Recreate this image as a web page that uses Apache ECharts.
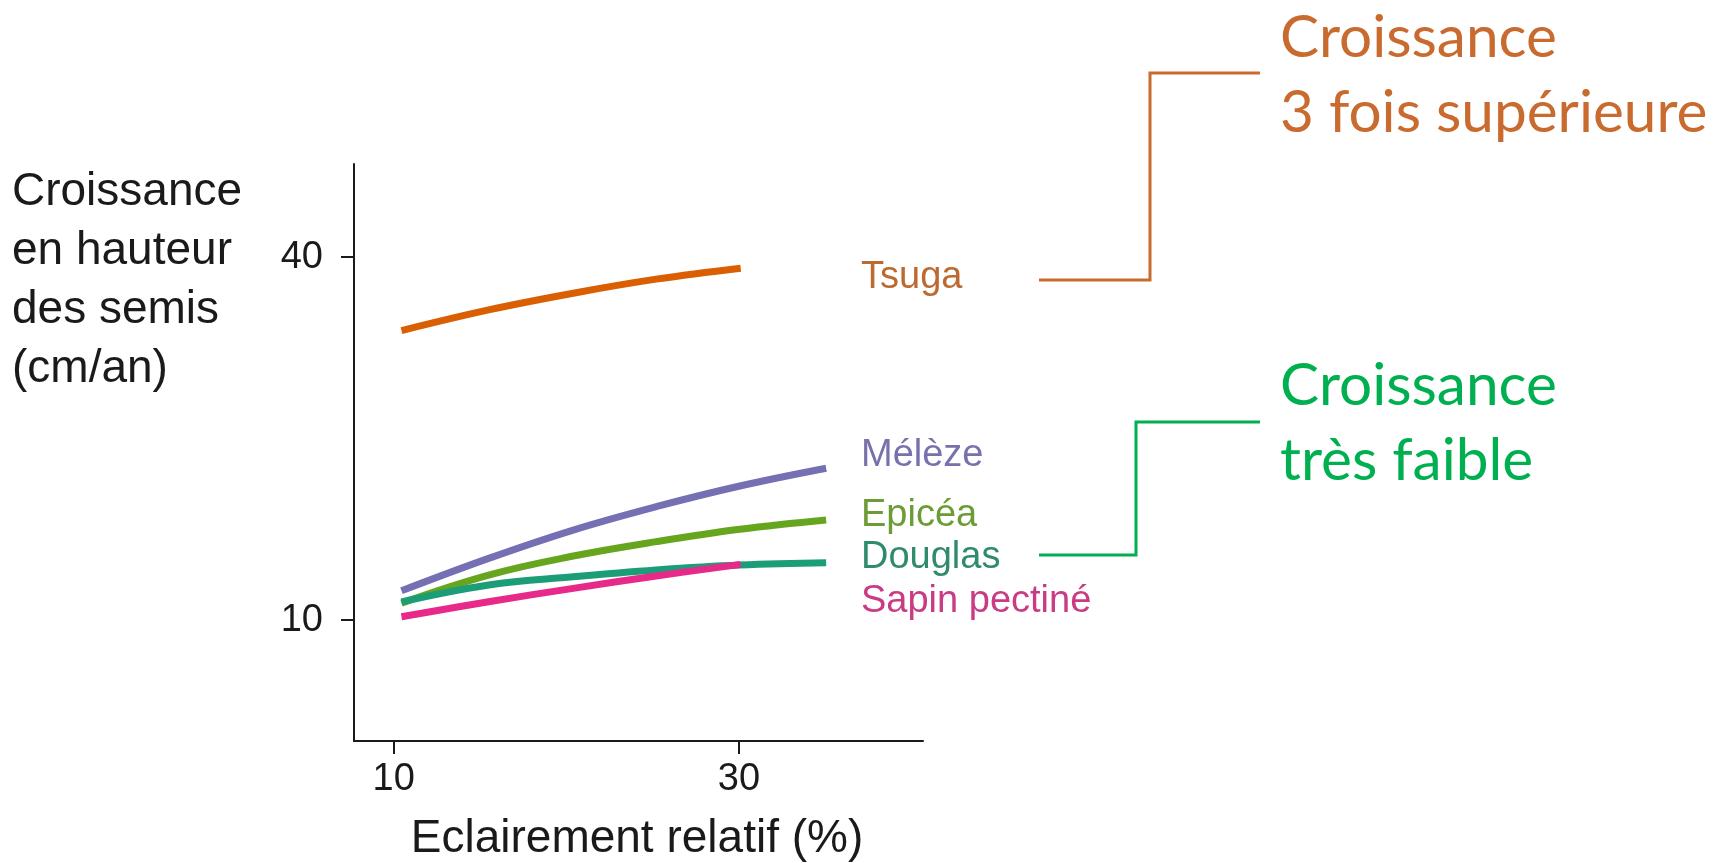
<!DOCTYPE html>
<html>
<head>
<meta charset="utf-8">
<script src="https://cdn.jsdelivr.net/npm/echarts@6/dist/echarts.min.js"></script>
<style>
  html, body { margin: 0; padding: 0; background: #fff; }
  #chart { width: 1714px; height: 863px; }
</style>
</head>
<body>
<div id="chart"></div>
<script>
// eclairement relatif (%) pour chaque courbe
var lightShort = [10.45, 15.5, 20.4, 25.2, 30.1];
var lightLong = [10.45, 15.5, 20.4, 25.2, 30.05, 35.05];

// croissance en hauteur (cm/an)
var tsuga = [33.93, 35.64, 37.02, 38.18, 39.09];
var meleze = [12.42, 15.1, 17.44, 19.37, 21.08, 22.55];
var epicea = [11.4, 13.72, 15.29, 16.48, 17.5, 18.27];
var douglas = [11.5, 12.9, 13.58, 14.14, 14.55, 14.74];
var sapin = [10.27, 11.51, 12.62, 13.64, 14.6];

var xTicks = [10, 30];
var yTicks = [10, 40];

function pairs(xs, ys) {
    return ys.map(function (y, i) { return [xs[i], y]; });
}

var myChart = echarts.init(document.getElementById('chart'), null, { renderer: 'canvas' });

var axisFont = '"Liberation Sans", Arial, sans-serif';
var noteFont = 'Lato, "Open Sans", sans-serif';

function curve(name, color, data) {
    return {
        name: name,
        type: 'line',
        data: data,
        smooth: 0.4,
        showSymbol: false,
        symbol: 'none',
        lineStyle: { color: color, width: 7, cap: 'butt' },
        silent: true
    };
}

function label(text, color, y) {
    return {
        type: 'text',
        x: 861, y: y,
        style: {
            text: text, fill: color,
            font: '38px ' + axisFont,
            verticalAlign: 'middle', align: 'left'
        }
    };
}

function note(lines, color, y) {
    return {
        type: 'text',
        x: 1280, y: y,
        style: {
            text: lines.join('\n'), fill: color,
            font: '58.5px ' + noteFont,
            lineHeight: 75,
            verticalAlign: 'middle', align: 'left'
        }
    };
}

var option = {
    animation: false,
    grid: { left: 354, right: 791, top: 164, bottom: 122, containLabel: false },
    xAxis: {
        type: 'value',
        min: 7.7, max: 40.66,
        axisLine: { lineStyle: { color: '#1a1a1a', width: 2 } },
        axisTick: { show: true, customValues: xTicks, length: 13, lineStyle: { color: '#1a1a1a', width: 2 } },
        axisLabel: { customValues: xTicks, color: '#1a1a1a', fontSize: 38, fontFamily: axisFont, margin: 20 },
        splitLine: { show: false }
    },
    yAxis: {
        type: 'value',
        min: 0, max: 47.7,
        axisLine: { show: true, lineStyle: { color: '#1a1a1a', width: 2 } },
        axisTick: { show: true, customValues: yTicks, length: 13, lineStyle: { color: '#1a1a1a', width: 2 } },
        axisLabel: { customValues: yTicks, color: '#1a1a1a', fontSize: 38, fontFamily: axisFont, margin: 31 },
        splitLine: { show: false }
    },
    series: [
        curve('Tsuga', '#D95F02', pairs(lightShort, tsuga)),
        curve('Mélèze', '#7570B3', pairs(lightLong, meleze)),
        curve('Epicéa', '#66A61E', pairs(lightLong, epicea)),
        curve('Douglas', '#1B9E77', pairs(lightLong, douglas)),
        curve('Sapin pectiné', '#E7298A', pairs(lightShort, sapin))
    ],
    graphic: [
        {
            type: 'text',
            x: 12, y: 163,
            style: {
                text: 'Croissance\nen hauteur\ndes semis\n(cm/an)',
                fill: '#1a1a1a',
                font: '46px ' + axisFont,
                lineHeight: 59,
                verticalAlign: 'top', align: 'left'
            }
        },
        {
            type: 'text',
            x: 637, y: 839,
            style: {
                text: 'Eclairement relatif (%)',
                fill: '#1a1a1a',
                font: '46px ' + axisFont,
                verticalAlign: 'middle', align: 'center'
            }
        },
        label('Tsuga', '#BD6A30', 278),
        label('Mélèze', '#7772AD', 456),
        label('Epicéa', '#6B9C36', 516),
        label('Douglas', '#2E8B6E', 558),
        label('Sapin pectiné', '#C93B82', 602),
        {
            type: 'polyline',
            shape: { points: [[1039, 280], [1150, 280], [1150, 73], [1260, 73]] },
            style: { stroke: '#C96A2F', lineWidth: 3, fill: null }
        },
        {
            type: 'polyline',
            shape: { points: [[1039, 555], [1136, 555], [1136, 422], [1260, 422]] },
            style: { stroke: '#00B050', lineWidth: 3, fill: null }
        },
        note(['Croissance', '3 fois supérieure'], '#C96A2F', 76),
        note(['Croissance', 'très faible'], '#00B050', 423.5)
    ]
};

myChart.setOption(option);
</script>
</body>
</html>
